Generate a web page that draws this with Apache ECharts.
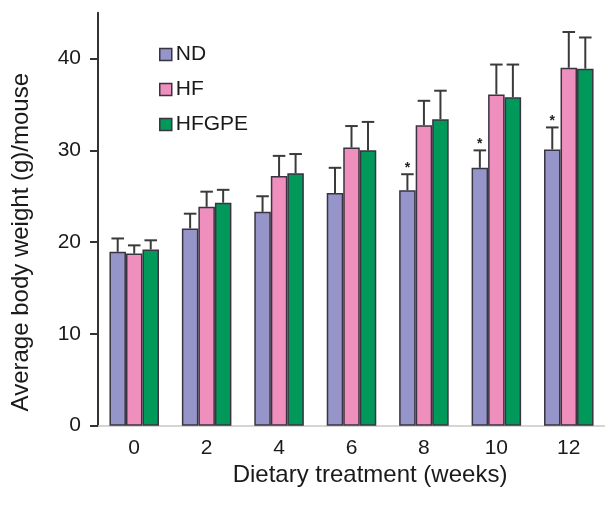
<!DOCTYPE html>
<html>
<head>
<meta charset="utf-8">
<script src="https://cdn.jsdelivr.net/npm/echarts@6/dist/echarts.min.js"></script>
<style>html,body{margin:0;padding:0;background:#fff}#c{width:605px;height:505px}</style>
</head>
<body>
<div id="c"></div>
<script>
var weeks = ['0', '2', '4', '6', '8', '10', '12'];
var ndMean = [18.95, 21.5, 23.3, 25.35, 25.65, 28.1, 30.1];
var ndErr = [1.45, 1.6, 1.7, 2.75, 1.75, 1.9, 2.4];
var hfMean = [18.75, 23.85, 27.2, 30.3, 32.75, 36.1, 39.0];
var hfErr = [0.9, 1.65, 2.2, 2.35, 2.65, 3.25, 3.9];
var hfgpeMean = [19.2, 24.3, 27.5, 30.0, 33.4, 35.8, 38.9];
var hfgpeErr = [1.0, 1.4, 2.1, 3.1, 3.1, 3.55, 3.4];
var ndSignificant = [false, false, false, false, true, true, true];
var yTicks = [0, 10, 20, 30, 40];

var FONT = 'Liberation Sans, Arial, Helvetica, sans-serif';
var colors = ['#9595c9', '#ef8fbd', '#00995a'];
var CAT_GAP = 0.316;

var groups = [
  {name: 'ND', mean: ndMean, err: ndErr, star: ndSignificant},
  {name: 'HF', mean: hfMean, err: hfErr, star: null},
  {name: 'HFGPE', mean: hfgpeMean, err: hfgpeErr, star: null}
];

var series = [];
groups.forEach(function (g, gi) {
  series.push({
    name: g.name,
    type: 'bar',
    data: g.mean,
    barGap: '0%',
    barCategoryGap: (CAT_GAP * 100) + '%',
    itemStyle: {color: colors[gi], borderColor: '#3a3340', borderWidth: 1.5},
    z: 2
  });
});
groups.forEach(function (g, gi) {
  var data = g.mean.map(function (m, i) { return [i, m, m + g.err[i], g.star && g.star[i] ? 1 : 0]; });
  series.push({
    name: g.name + ' err',
    type: 'custom',
    data: data,
    z: 3,
    silent: true,
    renderItem: function (params, api) {
      var band = api.size([1, 0])[0];
      var bw = band * (1 - CAT_GAP) / 3;
      var c = api.coord([api.value(0), api.value(1)]);
      var top = api.coord([api.value(0), api.value(2)]);
      var x = c[0] + (gi - 1) * bw;
      var half = bw * 0.38;
      var style = {stroke: '#3a3a3a', lineWidth: 2};
      var children = [
        {type: 'line', shape: {x1: x, y1: c[1], x2: x, y2: top[1]}, style: style},
        {type: 'line', shape: {x1: x - half, y1: top[1], x2: x + half, y2: top[1]}, style: style}
      ];
      if (api.value(3)) {
        children.push({type: 'text', style: {text: '*', x: x, y: top[1] + 1, align: 'center', verticalAlign: 'bottom', font: 'bold 14px ' + FONT, fill: '#222'}});
      }
      return {type: 'group', children: children};
    }
  });
});

var chart = echarts.init(document.getElementById('c'), null, {renderer: 'canvas'});
chart.setOption({
  backgroundColor: '#fff',
  animation: false,
  textStyle: {fontFamily: FONT},
  grid: {left: 98, top: 12.7, width: 511.5, height: 413},
  legend: {
    data: ['ND', 'HF', 'HFGPE'],
    orient: 'vertical',
    left: 154,
    top: 39,
    itemWidth: 12,
    itemHeight: 12,
    itemGap: 14,
    icon: 'rect',
    itemStyle: {borderColor: '#3a3340', borderWidth: 1.5},
    textStyle: {fontSize: 21, color: '#1a1a1a', fontFamily: FONT, padding: [0, 0, 0, -1]}
  },
  xAxis: {
    type: 'category',
    data: weeks,
    axisLine: {lineStyle: {color: '#c8c8c8', width: 1.5}},
    axisTick: {show: false},
    axisLabel: {fontSize: 21, color: '#1a1a1a', margin: 12, fontFamily: FONT},
    name: 'Dietary treatment (weeks)',
    nameLocation: 'middle',
    nameGap: 33,
    nameTextStyle: {fontSize: 24, color: '#1a1a1a', fontFamily: FONT, padding: [0, 0, 0, 37]}
  },
  yAxis: {
    type: 'value',
    min: 0,
    max: 45,
    interval: 10,
    splitLine: {show: false},
    axisLine: {show: true, lineStyle: {color: '#333', width: 2}},
    axisTick: {show: true, length: 8, lineStyle: {color: '#333', width: 2}, customValues: yTicks},
    axisLabel: {fontSize: 21, color: '#1a1a1a', margin: 17, fontFamily: FONT, customValues: yTicks},
    name: 'Average body weight (g)/mouse',
    nameLocation: 'middle',
    nameRotate: 90,
    nameGap: 65,
    nameTextStyle: {fontSize: 24, color: '#1a1a1a', fontFamily: FONT, padding: [0, 46, 0, 0]}
  },
  series: series
});
</script>
</body>
</html>
